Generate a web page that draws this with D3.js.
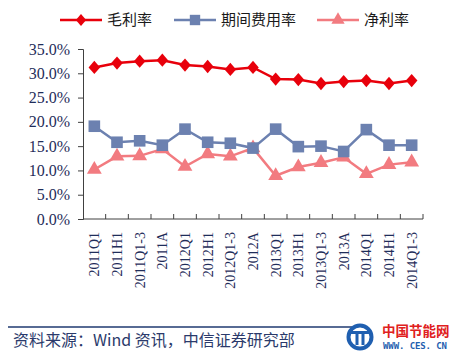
<!DOCTYPE html>
<html><head><meta charset="utf-8">
<script src="https://cdn.jsdelivr.net/npm/d3@7"></script>
<style>body{margin:0;background:#fff}svg{display:block}</style>
</head><body>
<svg id="c" width="450" height="355"></svg>
<script>
const categories = ["2011Q1","2011H1","2011Q1-3","2011A","2012Q1","2012H1","2012Q1-3","2012A","2013Q1","2013H1","2013Q1-3","2013A","2014Q1","2014H1","2014Q1-3"];
const grossMargin = [31.2,32.1,32.5,32.7,31.7,31.4,30.8,31.2,28.8,28.7,27.9,28.3,28.5,27.9,28.5];
const expenseRatio = [19.1,15.8,16.1,15.2,18.5,15.8,15.6,14.6,18.5,14.9,15.0,13.9,18.4,15.2,15.2];
const netMargin = [10.2,12.9,13.0,14.4,10.8,13.4,12.9,14.6,8.9,10.7,11.6,12.7,9.3,11.2,11.7];
const yTicks = [0,5,10,15,20,25,30,35];
const seriesNames = ["毛利率","期间费用率","净利率"];

const svg = d3.select("#c");
const x = d3.scaleBand().domain(categories).range([83,423]);
const y = d3.scaleLinear().domain([0,35]).range([219,49]);
const axisColor = "#404040";
const labelColor = "#1f2d5a";

// y axis
const ya = svg.append("g").attr("transform","translate(83,0)")
  .call(d3.axisLeft(y).tickValues(yTicks).tickSize(5).tickFormat(d=>d.toFixed(1)+"%"));
ya.select(".domain").attr("stroke",axisColor);
ya.selectAll(".tick line").attr("stroke",axisColor);
ya.selectAll("text").attr("font-family","Liberation Serif, Times New Roman, serif").attr("font-size",16).attr("fill",labelColor).attr("dx",-5);

// x axis
const xa = svg.append("g").attr("transform","translate(0,219)")
  .call(d3.axisBottom(x).tickSize(0).tickSizeOuter(0));
xa.select(".domain").attr("stroke",axisColor).attr("d","M83,0H423");
xa.selectAll(".tick text").attr("font-family","Liberation Serif, Times New Roman, serif").attr("font-size",14).attr("fill",labelColor)
  .attr("transform","rotate(-90)").attr("text-anchor","end").attr("x",-13).attr("y",0).attr("dy","0.35em");
// boundary ticks pointing inward
svg.append("g").selectAll("line").data(categories).join("line")
  .attr("x1",(d,i)=>83+x.step()*(i+1)).attr("x2",(d,i)=>83+x.step()*(i+1))
  .attr("y1",219).attr("y2",214).attr("stroke",axisColor);

const cx = d => x(d)+x.bandwidth()/2;
const series = [
  {name:seriesNames[0], values:grossMargin, color:"#e8000b", marker:"diamond", size:85, width:2.5},
  {name:seriesNames[1], values:expenseRatio, color:"#6c81b0", marker:"square", size:135, width:2.5},
  {name:seriesNames[2], values:netMargin, color:"#f27b80", marker:"triangle", size:95, width:2.5}
];
const symType = {diamond:d3.symbolDiamond2, square:d3.symbolSquare, triangle:d3.symbolTriangle};
const line = d3.line().x((d,i)=>cx(categories[i])).y(d=>y(d));
[series[2],series[1],series[0]].forEach(s=>{
  const g = svg.append("g");
  g.append("path").attr("d",line(s.values)).attr("fill","none").attr("stroke",s.color).attr("stroke-width",s.width);
  g.selectAll("path.m").data(s.values).join("path").attr("class","m")
    .attr("transform",(d,i)=>`translate(${cx(categories[i])},${y(d)})${s.marker==="diamond"?" scale(1,1.15)":""}`)
    .attr("d",d3.symbol().type(symType[s.marker]).size(s.size)).attr("fill",s.color);
});

// legend
const legX = [60,174,317];
const lg = svg.append("g");
series.forEach((s,i)=>{
  const g = lg.append("g").attr("transform",`translate(${legX[i]},20)`);
  g.append("line").attr("x1",0).attr("x2",42).attr("stroke",s.color).attr("stroke-width",2.5);
  g.append("path").attr("transform",`translate(21,0)${s.marker==="diamond"?" scale(1,1.15)":""}`)
    .attr("d",d3.symbol().type(symType[s.marker]).size(s.size*0.8)).attr("fill",s.color);
  g.append("text").attr("x",47).attr("y",0).attr("dy","0.35em")
    .attr("font-family","Noto Sans CJK SC, sans-serif").attr("font-size",15).attr("fill","#1a1a1a").text(s.name);
});

// footer
svg.append("line").attr("x1",8).attr("x2",352).attr("y1",327).attr("y2",327).attr("stroke","#1f3a70").attr("stroke-width",1.5);
svg.append("text").attr("x",13).attr("y",346).attr("font-family","Noto Sans CJK SC, sans-serif").attr("font-size",16)
  .attr("fill","#2b3a6b").text("资料来源：Wind 资讯，中信证券研究部");
// logo
const logo = svg.append("g");
logo.append("circle").attr("cx",360).attr("cy",337).attr("r",11.5).attr("fill","none").attr("stroke","#1f5fb0").attr("stroke-width",4);
logo.append("rect").attr("x",350).attr("y",331).attr("width",20).attr("height",3).attr("fill","#1f5fb0");
logo.append("rect").attr("x",355.5).attr("y",333).attr("width",3).attr("height",12).attr("fill","#1f5fb0");
logo.append("rect").attr("x",361.5).attr("y",333).attr("width",3).attr("height",12).attr("fill","#1f5fb0");
logo.append("text").attr("x",382).attr("y",336).attr("font-family","Noto Sans CJK SC, sans-serif").attr("font-weight","bold").attr("font-size",13.5)
  .attr("fill","#e02020").text("中国节能网");
logo.append("text").attr("x",383).attr("y",349).attr("font-family","DejaVu Sans Mono, monospace").attr("font-weight","bold").attr("font-size",9)
  .attr("fill","#1f5fb0").attr("textLength",64).text("WWW. CES. CN");
</script>
</body></html>
